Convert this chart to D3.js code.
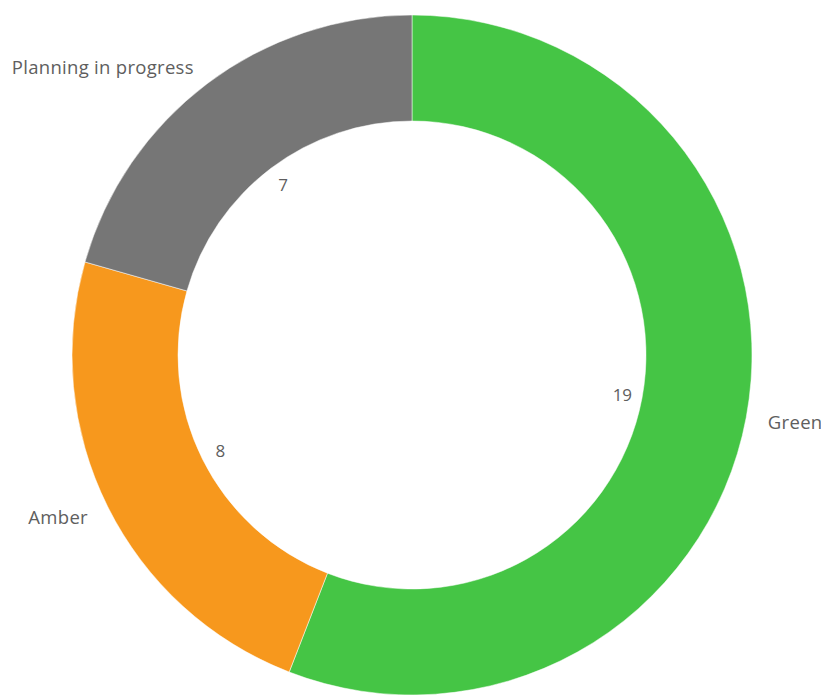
<!DOCTYPE html>
<html>
<head>
  <meta charset="utf-8">
  <title>Status donut</title>
  <script src="https://d3js.org/d3.v7.min.js"></script>
  <style>
    body { margin: 0; background: #fff; }
    svg { display: block; font-family: "Open Sans", "DejaVu Sans", sans-serif; }
  </style>
</head>
<body>
<script>
  // data
  var categories = ["Green", "Amber", "Planning in progress"];
  var counts = [19, 8, 7];
  var colors = ["#45c545", "#f7981d", "#767676"];

  var width = 821, height = 695;
  var cx = 412, cy = 355;
  var outerR = 340, innerR = 234;

  var svg = d3.select("body").append("svg")
    .attr("width", width)
    .attr("height", height);

  var g = svg.append("g").attr("transform", "translate(" + cx + "," + cy + ")");

  var data = categories.map(function (c, i) { return { name: c, value: counts[i], color: colors[i] }; });

  var pie = d3.pie().sort(null).value(function (d) { return d.value; });
  var arcs = pie(data);

  var arc = d3.arc().innerRadius(innerR).outerRadius(outerR);

  g.selectAll("path.slice")
    .data(arcs)
    .enter()
    .append("path")
    .attr("class", "slice")
    .attr("d", arc)
    .attr("fill", function (d) { return d.data.color; })
    .attr("stroke", "#fff")
    .attr("stroke-width", 0.5);

  // value labels just inside the hole
  var valueArc = d3.arc().innerRadius(214).outerRadius(214);
  g.selectAll("text.value")
    .data(arcs)
    .enter()
    .append("text")
    .attr("class", "value")
    .attr("transform", function (d) { return "translate(" + valueArc.centroid(d) + ")"; })
    .attr("text-anchor", "middle")
    .attr("dominant-baseline", "central")
    .attr("font-size", 17)
    .attr("fill", "#5e5e5e")
    .text(function (d) { return d.data.value; });

  // category labels outside
  var labelArc = d3.arc().innerRadius(362).outerRadius(362);
  g.selectAll("text.label")
    .data(arcs)
    .enter()
    .append("text")
    .attr("class", "label")
    .attr("transform", function (d) { return "translate(" + labelArc.centroid(d) + ")"; })
    .attr("text-anchor", function (d) {
      var mid = (d.startAngle + d.endAngle) / 2;
      return mid < Math.PI ? "start" : "end";
    })
    .attr("dominant-baseline", "central")
    .attr("font-size", 18.5)
    .attr("letter-spacing", 0.3)
    .attr("fill", "#5e5e5e")
    .text(function (d) { return d.data.name; });
</script>
</body>
</html>
